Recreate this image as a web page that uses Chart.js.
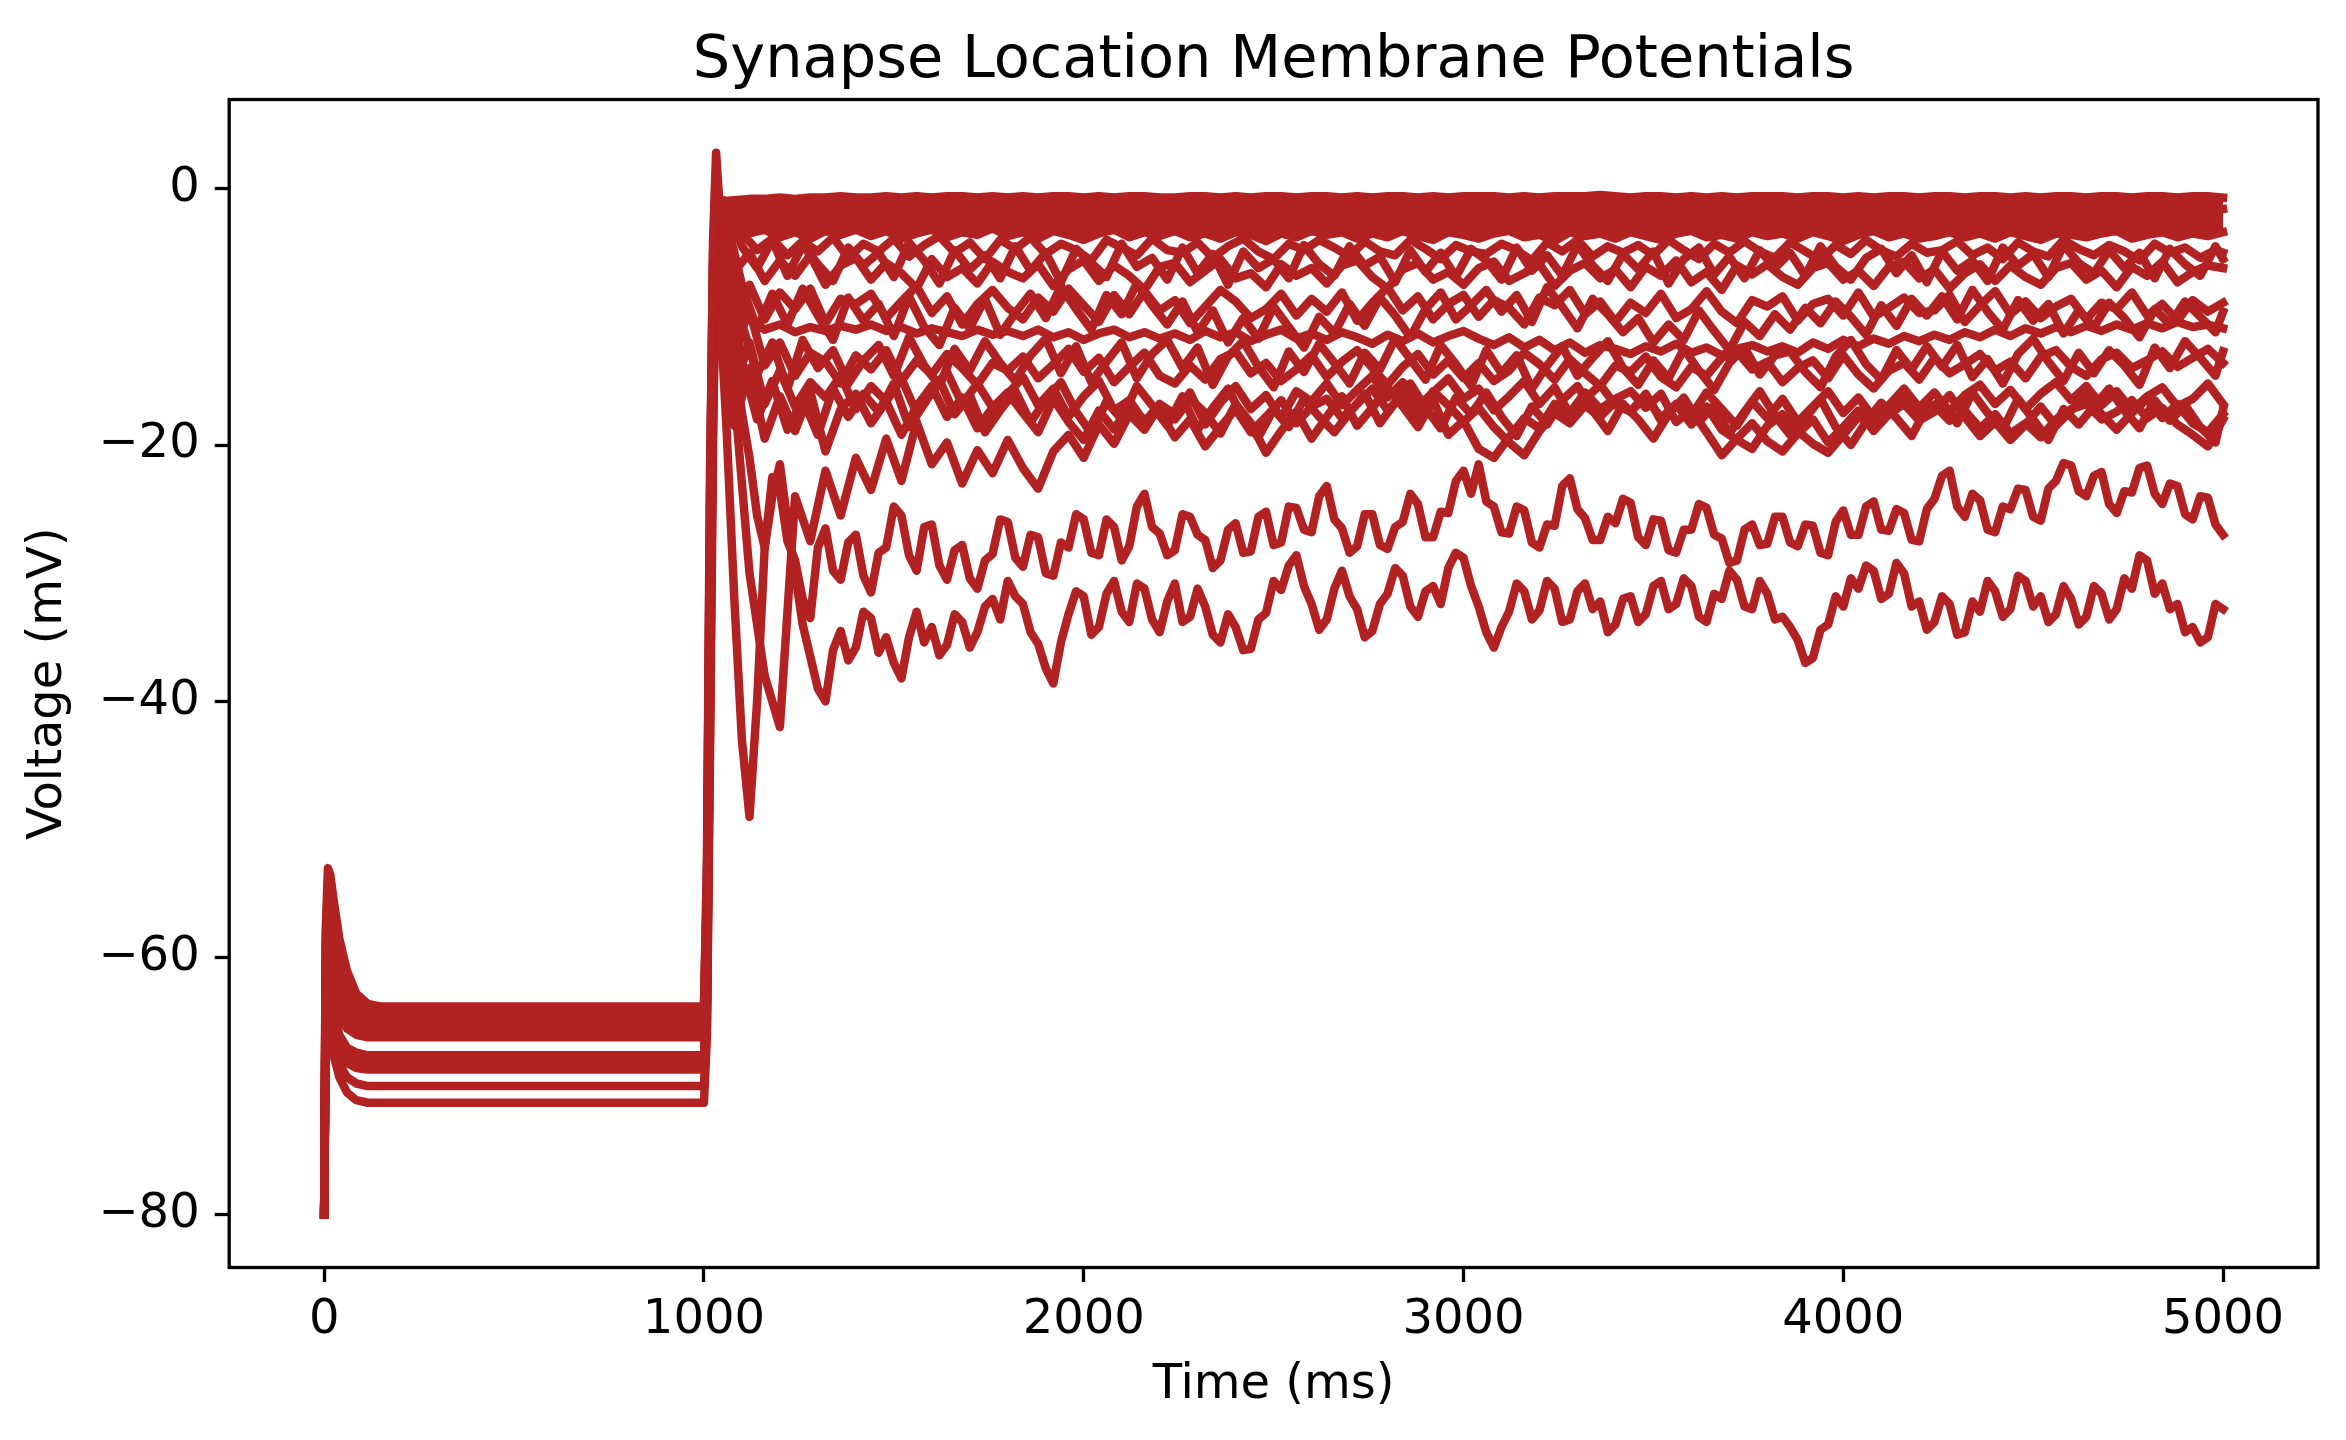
<!DOCTYPE html>
<html>
<head>
<meta charset="utf-8">
<title>Synapse Location Membrane Potentials</title>
<script src="https://cdn.jsdelivr.net/npm/chart.js@4.4.1/dist/chart.umd.min.js"></script>
<style>
  html, body { margin: 0; padding: 0; background: #fff; }
  canvas { display: block; }
</style>
</head>
<body>
<canvas id="chart" width="2346" height="1440"></canvas>
<script>
// --- time grids (ms) ---
// early part: rest period + onset of the stimulus
const tEarly = [0, 4, 10, 16, 25, 40, 60, 85, 115, 150, 200, 1000, 1008, 1016, 1024, 1032];
// late part: one sample every 40 ms from 1040 to 5000
const tLate = Array.from({ length: 100 }, (_, i) => 1040 + 40 * i);
// same spacing, sampled half a step later (last sample at 5000)
const tShift = Array.from({ length: 99 }, (_, i) => 1060 + 40 * i).concat([5000]);
// late part, finer (20 ms) for the isolated low traces
const tFine = Array.from({ length: 199 }, (_, i) => 1040 + 20 * i);

const xTicks = [0, 1000, 2000, 3000, 4000, 5000];
const yTicks = [-80, -60, -40, -20, 0];

// --- dense band near 0 mV (upper / lower edge, late part only) ---
const bandTop = [
  -1.0,-0.9,-0.8,-0.8,-0.7,-0.8,-0.7,-0.7,-0.6,-0.7,
  -0.7,-0.6,-0.7,-0.6,-0.7,-0.6,-0.6,-0.7,-0.6,-0.7,
  -0.6,-0.7,-0.6,-0.6,-0.7,-0.6,-0.7,-0.6,-0.6,-0.7,
  -0.7,-0.6,-0.6,-0.7,-0.6,-0.7,-0.6,-0.6,-0.7,-0.6,
  -0.6,-0.7,-0.6,-0.7,-0.6,-0.6,-0.7,-0.6,-0.7,-0.6,
  -0.6,-0.6,-0.7,-0.6,-0.7,-0.6,-0.6,-0.6,-0.5,-0.6,
  -0.7,-0.6,-0.6,-0.7,-0.6,-0.7,-0.6,-0.7,-0.6,-0.6,
  -0.6,-0.7,-0.6,-0.6,-0.7,-0.6,-0.7,-0.6,-0.6,-0.7,
  -0.6,-0.6,-0.7,-0.6,-0.6,-0.7,-0.6,-0.7,-0.6,-0.6,
  -0.7,-0.6,-0.6,-0.7,-0.6,-0.6,-0.7,-0.6,-0.6,-0.7
];
const bandBottom = [
  -2.0,-3.0,-3.5,-3.2,-3.8,-3.4,-3.9,-3.3,-3.6,-3.2,
  -3.7,-3.3,-3.9,-3.5,-3.2,-3.8,-3.4,-3.6,-3.1,-3.7,
  -3.4,-3.9,-3.3,-3.6,-4.0,-3.5,-3.2,-3.8,-3.4,-3.7,
  -3.3,-3.8,-3.5,-3.9,-3.4,-3.6,-4.1,-3.5,-3.8,-3.3,
  -3.6,-3.4,-3.9,-3.5,-3.8,-3.3,-3.7,-4.0,-3.4,-3.6,
  -3.9,-3.5,-3.3,-3.8,-3.6,-4.1,-3.4,-3.7,-3.5,-3.9,
  -3.4,-3.7,-4.0,-3.5,-3.3,-3.8,-3.6,-3.9,-3.4,-3.7,
  -3.5,-3.9,-3.4,-3.7,-4.1,-3.6,-3.3,-3.8,-3.5,-3.9,
  -3.7,-3.4,-3.8,-3.5,-3.9,-3.4,-3.7,-4.0,-3.5,-3.6,
  -3.8,-3.5,-3.3,-3.9,-3.6,-3.4,-3.8,-3.5,-3.7,-3.4
];

// --- individual synapse traces (mV) ---
const earlyA = [-80, -58, -53, -53.5, -55.5, -58.5, -61.0, -62.8, -63.6, -63.8, -63.8, -63.8, -55, -25, -4, 2.8];
const lateA = [
  -0.8,-1.2,-1.8,-1.4,-2.0,-1.5,-1.9,-1.3,-1.7,-2.1,
  -1.6,-2.2,-1.4,-1.9,-1.2,-1.7,-2.3,-1.5,-1.8,-1.3,
  -1.9,-1.4,-2.1,-1.6,-1.3,-2.0,-1.5,-2.4,-1.7,-1.2,
  -1.8,-2.2,-1.5,-1.9,-1.3,-1.6,-2.1,-1.4,-2.0,-1.7,
  -1.3,-1.9,-2.3,-1.6,-1.4,-2.0,-1.5,-1.8,-2.2,-1.6,
  -2.0,-1.5,-1.7,-2.3,-1.4,-1.9,-1.3,-2.1,-1.6,-1.8,
  -1.4,-2.1,-1.6,-1.3,-1.9,-2.2,-1.5,-1.8,-2.4,-1.7,
  -1.9,-1.3,-2.0,-1.6,-2.2,-1.5,-1.8,-1.4,-2.1,-1.6,
  -1.7,-2.3,-1.5,-1.9,-1.4,-2.0,-1.6,-2.2,-1.3,-1.8,
  -2.1,-1.6,-1.9,-1.4,-2.2,-1.7,-1.5,-2.0,-1.8,-1.6
];

const earlyC2 = [-80, -59, -54, -54.6, -56.6, -59.5, -61.8, -63.2, -63.9, -64.0, -64.0, -64.0, -54, -24, -5, -1.5];
const lateC2 = [
  -1.0,-4.5,-6.2,-4.0,-6.8,-4.4,-5.9,-7.2,-4.6,-6.0,
  -5.0,-6.9,-4.2,-5.6,-7.4,-4.8,-6.3,-5.2,-7.0,-4.5,
  -6.4,-5.0,-7.3,-4.7,-5.8,-6.9,-4.3,-6.1,-5.4,-7.1,
  -4.6,-6.6,-5.1,-7.5,-4.9,-6.2,-5.5,-7.0,-4.4,-5.9,
  -6.8,-4.5,-6.0,-5.3,-7.3,-4.8,-6.5,-5.0,-6.9,-4.7,
  -5.6,-7.1,-4.6,-6.4,-5.2,-6.8,-4.4,-6.0,-7.2,-5.1,
  -6.3,-4.9,-7.4,-5.5,-4.6,-6.7,-5.3,-7.0,-4.8,-6.2,
  -5.0,-6.8,-4.5,-6.1,-7.1,-5.4,-4.7,-6.6,-5.2,-7.3,
  -4.9,-6.4,-5.6,-7.2,-4.6,-6.0,-5.1,-6.9,-4.4,-5.8,
  -6.6,-4.8,-6.2,-5.0,-7.0,-4.7,-5.9,-6.8,-4.5,-5.5
];

const earlyB = [-80, -60, -55, -55.8, -57.8, -60.5, -62.5, -63.8, -64.2, -64.3, -64.3, -64.3, -52, -22, -6, -2];
const lateB = [
  -1.5,-3.5,-4.8,-3.9,-5.2,-4.1,-4.9,-3.8,-5.4,-4.3,
  -4.9,-3.9,-5.3,-4.4,-3.7,-5.0,-4.2,-5.5,-4.0,-4.7,
  -3.8,-5.1,-4.3,-4.8,-5.6,-4.0,-4.6,-5.2,-3.9,-4.8,
  -5.0,-4.2,-5.4,-4.5,-3.9,-4.9,-5.5,-4.3,-4.8,-4.0,
  -4.6,-5.3,-4.1,-4.9,-5.2,-4.0,-4.7,-5.5,-4.4,-4.9,
  -5.1,-4.3,-4.8,-5.6,-4.2,-4.9,-4.0,-5.3,-4.5,-5.0,
  -4.4,-5.2,-4.0,-4.8,-5.5,-4.3,-5.0,-4.1,-4.9,-5.4,
  -4.2,-4.9,-5.6,-4.4,-5.1,-4.0,-4.8,-5.3,-4.3,-5.0,
  -4.8,-4.1,-5.2,-4.6,-5.5,-4.2,-4.9,-5.3,-4.0,-4.7,
  -5.2,-4.4,-4.9,-5.6,-4.3,-5.0,-4.6,-5.4,-4.8,-5.0
];

const earlyC = [-80, -61, -57, -57.8, -59.6, -61.8, -63.4, -64.4, -64.7, -64.8, -64.8, -64.8, -56, -28, -8, -3];
const lateC = [
  -2.0,-6.5,-5.0,-7.2,-5.6,-6.8,-5.2,-7.5,-6.0,-5.4,
  -7.1,-5.8,-6.6,-7.8,-5.5,-6.9,-6.2,-7.4,-5.7,-6.5,
  -7.0,-5.9,-7.6,-6.3,-5.6,-7.2,-6.0,-6.8,-7.9,-6.1,
  -5.8,-7.3,-6.4,-5.5,-7.0,-6.6,-7.7,-5.9,-6.8,-6.2,
  -7.4,-6.0,-5.6,-6.9,-7.8,-6.3,-5.8,-7.1,-6.5,-7.5,
  -6.2,-5.7,-7.2,-6.6,-5.9,-7.6,-6.4,-5.8,-7.0,-6.3,
  -7.7,-6.1,-6.8,-5.6,-7.3,-6.5,-7.9,-6.0,-6.7,-5.9,
  -6.9,-7.5,-6.2,-5.8,-7.1,-6.4,-7.6,-6.1,-5.7,-7.0,
  -6.3,-7.8,-6.6,-5.9,-7.2,-6.0,-6.9,-7.5,-6.2,-5.8,
  -7.1,-6.4,-7.7,-6.1,-6.8,-5.7,-7.3,-6.5,-6.0,-6.2
];

const earlyD2 = [-80, -61.5, -58, -58.6, -60.2, -62.4, -63.9, -64.7, -64.95, -65.0, -65.0, -65.0, -57, -29, -9, -3];
const lateD2 = [
  -2.5,-7.5,-11.0,-8.2,-10.6,-7.8,-9.9,-11.8,-8.5,-10.3,
  -9.0,-11.5,-8.4,-10.8,-12.2,-9.3,-10.9,-8.6,-11.4,-9.7,
  -8.2,-10.1,-7.6,-9.4,-11.0,-8.3,-9.8,-7.4,-9.1,-10.6,
  -8.8,-11.2,-9.5,-12.0,-10.1,-11.7,-9.2,-10.8,-12.4,-10.0,
  -11.3,-9.0,-10.7,-8.5,-9.9,-11.6,-9.4,-8.1,-10.2,-9.1,
  -7.9,-9.6,-8.3,-10.4,-7.7,-9.2,-10.9,-8.6,-9.8,-11.2,
  -10.1,-12.0,-10.6,-11.8,-9.5,-11.1,-12.6,-10.4,-11.5,-9.8,
  -11.0,-9.3,-10.5,-8.8,-10.0,-11.4,-9.1,-10.7,-8.6,-9.9,
  -8.4,-10.2,-7.9,-9.6,-11.0,-8.7,-10.3,-9.0,-11.3,-9.5,
  -10.8,-8.9,-10.1,-11.6,-9.4,-10.6,-8.8,-10.0,-11.2,-9.6
];

const earlyD = [-80, -62, -58.5, -59.2, -60.8, -62.8, -64.2, -65.0, -65.2, -65.3, -65.3, -65.3, -58, -30, -10, -4];
const lateD = [
  -3.0,-9.5,-7.5,-10.2,-8.1,-9.4,-7.8,-10.5,-8.6,-9.0,
  -8.2,-10.1,-8.8,-7.6,-9.7,-8.4,-10.6,-9.0,-7.9,-9.3,
  -10.2,-8.5,-9.6,-7.8,-9.1,-10.4,-8.3,-9.8,-8.0,-9.5,
  -8.7,-10.5,-9.2,-7.9,-8.8,-10.1,-9.4,-8.2,-9.9,-8.6,
  -9.6,-8.1,-10.3,-8.9,-7.7,-9.5,-8.4,-10.2,-9.0,-8.3,
  -10.0,-8.7,-9.3,-10.6,-8.5,-9.1,-7.9,-9.8,-8.8,-10.4,
  -8.9,-9.7,-8.2,-10.1,-9.4,-8.0,-9.6,-10.5,-8.7,-9.2,
  -8.4,-10.3,-9.0,-8.6,-9.9,-8.1,-10.0,-9.3,-8.5,-9.7,
  -9.5,-8.3,-10.4,-9.1,-8.0,-9.8,-8.8,-10.1,-9.2,-8.6,
  -10.2,-8.9,-9.4,-8.1,-9.9,-9.0,-10.3,-8.7,-9.6,-8.9
];

const earlyE = [-80, -63, -60, -60.6, -62.0, -63.8, -64.9, -65.5, -65.7, -65.8, -65.8, -65.8, -60, -34, -12, -3];
const lateE = [
  -2.5,-8.0,-10.2,-11.0,-10.6,-11.2,-10.8,-11.1,-10.7,-11.0,
  -10.6,-11.1,-10.8,-11.3,-10.9,-11.2,-11.5,-11.0,-11.4,-11.1,
  -11.5,-11.0,-11.6,-11.2,-11.8,-11.3,-11.0,-11.6,-11.2,-11.7,
  -11.3,-11.8,-11.1,-11.6,-11.2,-11.9,-11.4,-11.0,-11.7,-11.3,
  -11.8,-11.2,-11.6,-12.1,-11.4,-11.9,-11.3,-12.0,-11.5,-11.1,
  -11.7,-12.2,-11.6,-12.4,-11.8,-12.6,-12.0,-12.8,-12.2,-12.5,
  -12.9,-12.3,-12.7,-12.1,-12.8,-12.4,-13.0,-12.5,-12.2,-12.7,
  -12.3,-12.8,-12.0,-12.5,-11.8,-12.3,-11.7,-12.1,-11.5,-11.9,
  -11.4,-11.8,-11.2,-11.6,-11.0,-11.5,-10.9,-11.3,-10.8,-11.2,
  -10.7,-11.1,-10.6,-11.0,-10.5,-10.9,-10.4,-10.8,-10.6,-10.9
];

const earlyF = [-80, -64, -61, -61.6, -63.0, -64.6, -65.5, -66.0, -66.2, -66.2, -66.2, -66.2, -60, -32, -9, -3.5];
const lateF = [
  -4.0,-12.5,-9.5,-13.8,-12.0,-14.6,-12.8,-13.5,-15.2,-13.0,
  -14.1,-12.6,-15.0,-13.4,-14.5,-12.9,-14.0,-15.3,-13.6,-14.2,
  -13.1,-14.8,-13.7,-12.5,-14.3,-13.2,-15.1,-13.9,-12.8,-14.6,
  -15.2,-13.8,-14.9,-13.3,-12.7,-14.4,-13.6,-15.0,-14.1,-13.0,
  -14.7,-13.5,-12.6,-14.0,-15.3,-13.9,-12.9,-14.5,-13.4,-14.8,
  -13.6,-15.0,-14.2,-12.8,-13.7,-14.9,-13.3,-14.4,-15.4,-13.8,
  -14.3,-13.1,-14.7,-15.5,-13.9,-14.6,-13.2,-12.7,-14.1,-13.5,
  -15.1,-14.0,-13.4,-14.8,-13.0,-14.5,-15.6,-14.2,-13.6,-14.9,
  -13.2,-14.4,-13.7,-12.9,-14.2,-13.5,-14.8,-13.1,-12.6,-13.9,
  -14.6,-13.3,-12.8,-14.0,-13.4,-12.7,-13.9,-13.2,-12.5,-13.6
];

const earlyG = [-80, -65, -62, -62.8, -64.3, -66.0, -67.0, -67.4, -67.6, -67.6, -67.6, -67.6, -62, -36, -14, -4];
const lateG = [
  -5.0,-15.5,-12.0,-16.8,-14.2,-17.0,-15.1,-16.3,-14.6,-17.2,
  -15.4,-16.6,-14.8,-17.5,-15.9,-14.3,-16.8,-15.2,-17.1,-16.0,
  -14.7,-16.9,-15.6,-17.8,-16.2,-15.0,-17.3,-16.5,-18.2,-16.8,
  -17.6,-15.9,-18.4,-16.7,-15.4,-17.2,-16.1,-17.9,-15.8,-16.6,
  -15.2,-16.9,-15.7,-14.6,-16.3,-15.1,-17.0,-15.9,-14.8,-16.4,
  -15.6,-17.3,-16.2,-15.0,-16.8,-15.5,-17.6,-16.4,-15.3,-16.9,
  -17.4,-16.0,-18.1,-16.8,-17.7,-15.9,-17.2,-18.5,-16.6,-17.9,
  -16.4,-18.2,-17.0,-15.8,-17.5,-16.3,-17.9,-16.9,-15.6,-17.1,
  -15.9,-17.4,-16.1,-15.3,-16.8,-15.7,-17.2,-16.0,-15.1,-16.5,
  -15.4,-16.9,-15.8,-17.3,-16.2,-15.5,-17.0,-16.4,-15.2,-16.8
];

const earlyF2 = [-80, -65.5, -62.5, -63.2, -64.6, -66.3, -67.3, -67.7, -67.9, -67.9, -67.9, -67.9, -62, -35, -12, -4];
const lateF2 = [
  -4.5,-10.5,-14.5,-12.0,-15.6,-11.8,-14.0,-12.6,-15.2,-13.4,
  -12.2,-14.6,-11.6,-13.8,-15.4,-12.5,-14.2,-11.9,-13.6,-15.0,
  -13.0,-11.7,-14.4,-12.3,-15.1,-13.5,-12.0,-14.8,-12.9,-11.8,
  -14.0,-12.4,-15.3,-13.1,-11.9,-13.9,-15.5,-12.7,-14.3,-12.1,
  -13.6,-15.2,-12.8,-14.1,-11.7,-13.3,-14.9,-12.2,-13.7,-15.4,
  -12.6,-14.4,-13.0,-15.6,-13.8,-12.3,-14.6,-13.2,-11.9,-14.0,
  -15.3,-13.4,-14.8,-12.5,-14.2,-15.7,-13.6,-12.4,-14.5,-13.0,
  -12.7,-14.3,-15.5,-13.1,-11.8,-13.7,-14.9,-12.6,-14.1,-12.3,
  -13.9,-12.2,-14.7,-13.3,-15.2,-12.9,-11.7,-13.5,-15.0,-12.8,
  -14.4,-12.6,-13.8,-15.3,-12.4,-14.0,-11.9,-13.2,-14.6,-12.7
];

const earlyH = [-80, -66, -63, -63.6, -65.0, -66.7, -67.6, -68.0, -68.2, -68.2, -68.2, -68.2, -63, -38, -15, -5];
const lateH = [
  -6.0,-18.5,-14.0,-19.5,-16.2,-18.9,-15.8,-20.5,-17.2,-16.0,
  -18.3,-16.6,-19.2,-17.0,-15.4,-17.8,-16.3,-18.7,-17.1,-15.9,
  -17.5,-19.0,-16.4,-18.2,-19.6,-17.3,-18.8,-16.9,-18.1,-17.4,
  -19.4,-18.0,-20.1,-18.6,-17.2,-19.0,-17.8,-16.5,-18.3,-17.0,
  -16.4,-17.9,-16.8,-15.6,-17.3,-16.1,-17.7,-15.8,-16.9,-18.2,
  -17.1,-18.6,-19.8,-20.8,-18.9,-17.5,-18.3,-16.9,-17.8,-16.6,
  -17.4,-16.2,-17.9,-16.8,-18.4,-17.0,-18.8,-19.6,-20.3,-18.5,
  -17.6,-18.9,-19.9,-20.6,-19.2,-17.8,-18.5,-17.1,-16.4,-17.7,
  -16.9,-18.1,-17.3,-18.7,-17.6,-19.1,-18.3,-19.4,-18.0,-17.2,
  -16.8,-18.0,-17.4,-16.5,-17.9,-17.1,-18.4,-19.2,-20.1,-18.0
];

const earlyG2 = [-80, -66.2, -63.5, -64.1, -65.4, -67.0, -67.9, -68.3, -68.5, -68.5, -68.5, -68.5, -63.5, -39, -16, -5];
const lateG2 = [
  -5.5,-13.5,-18.0,-15.0,-18.8,-16.4,-19.2,-15.6,-17.8,-16.0,
  -17.4,-15.2,-18.6,-16.8,-14.9,-17.6,-16.1,-19.0,-17.3,-15.8,
  -18.2,-16.5,-15.1,-17.4,-19.1,-16.6,-18.0,-15.4,-16.9,-18.5,
  -16.2,-18.8,-17.1,-15.6,-17.9,-19.4,-17.2,-18.6,-16.4,-17.8,
  -19.0,-17.5,-16.0,-18.3,-16.7,-15.2,-17.1,-18.7,-16.3,-17.6,
  -15.9,-17.8,-19.3,-17.0,-18.4,-16.5,-15.4,-17.3,-18.9,-16.8,
  -18.0,-19.5,-17.6,-16.3,-18.2,-16.9,-19.1,-17.4,-15.8,-17.7,
  -19.2,-17.9,-16.4,-18.6,-20.0,-18.2,-16.7,-17.9,-19.3,-17.1,
  -16.6,-18.3,-15.9,-17.5,-18.8,-16.4,-18.0,-19.6,-17.2,-18.4,
  -17.0,-15.6,-17.3,-18.7,-16.5,-18.1,-16.9,-18.6,-19.8,-17.2
];

const earlyL0 = [-80, -66.5, -64, -64.5, -65.8, -67.3, -68.2, -68.6, -68.7, -68.7, -68.7, -68.7, -64, -40, -16, -4];
const lateL0 = [
  -5.0,-16.0,-30.0,-38.0,-42.0,-24.0,-27.5,-22.0,-25.5,-21.0,
  -23.5,-19.5,-22.8,-18.2,-21.5,-19.8,-23.0,-20.4,-22.2,-19.6,
  -21.8,-23.4,-20.5,-19.2,-21.0,-18.4,-19.9,-17.6,-18.8,-16.9,
  -18.0,-16.4,-17.5,-19.1,-16.8,-18.3,-20.6,-18.9,-17.4,-19.5,
  -17.8,-16.2,-18.5,-17.1,-15.5,-17.0,-18.6,-16.5,-19.2,-18.1,
  -20.3,-21.0,-19.4,-17.9,-18.7,-16.8,-17.5,-15.9,-17.2,-16.4,
  -15.8,-17.1,-16.0,-18.2,-17.3,-19.0,-20.8,-19.5,-18.3,-19.7,
  -20.5,-19.1,-18.0,-19.8,-18.6,-17.3,-18.9,-17.6,-16.8,-18.1,
  -17.4,-16.1,-17.8,-19.3,-18.2,-19.6,-18.4,-17.0,-18.5,-17.3,
  -16.2,-17.6,-18.8,-17.5,-16.4,-17.9,-16.8,-18.3,-19.0,-17.6
];

// 20 ms samples
const earlyL1 = [-80, -67, -64.5, -65.2, -66.6, -68.3, -69.3, -69.8, -70.0, -70.0, -70.0, -70.0, -65, -42, -18, -6];
const fineL1 = [
  -8.0,-19.0,-32.0,-43.0,-49.0,-40.0,-28.0,-22.5,-23.5,-27.5,-29.0,-32.0,-33.5,-28.0,-26.5,-29.8,-30.5,-27.6,-27.0,-30.2,
  -31.5,-28.4,-28.0,-24.8,-25.5,-28.6,-29.8,-26.4,-26.2,-29.4,-30.5,-28.2,-27.8,-30.4,-31.2,-29.0,-28.5,-25.8,-26.0,-28.8,
  -29.5,-27.0,-27.2,-30.0,-30.2,-27.6,-28.0,-25.4,-25.8,-28.4,-28.6,-25.8,-26.4,-29.0,-27.9,-24.8,-23.8,-26.4,-26.9,-28.6,
  -28.2,-25.4,-25.6,-27.0,-27.4,-29.6,-29.0,-26.6,-26.1,-28.4,-28.3,-25.6,-25.2,-27.8,-27.6,-24.8,-24.9,-26.6,-26.8,-24.0,
  -23.2,-25.8,-26.5,-28.4,-27.9,-25.4,-25.4,-27.8,-28.1,-26.4,-26.0,-23.8,-24.6,-27.2,-27.2,-25.2,-25.3,-22.8,-22.0,-23.8,
  -21.5,-24.4,-24.8,-26.8,-26.9,-24.8,-25.1,-27.6,-28.0,-26.2,-26.3,-23.2,-22.6,-25.0,-25.7,-27.4,-27.4,-25.6,-26.1,-24.2,
  -24.5,-27.2,-27.8,-25.8,-25.9,-28.2,-28.4,-26.6,-26.6,-24.6,-24.9,-27.0,-27.3,-29.2,-29.0,-26.6,-26.2,-27.8,-27.7,-25.6,
  -25.6,-27.6,-27.9,-26.2,-26.3,-28.4,-28.6,-26.0,-25.1,-27.0,-27.0,-24.8,-24.4,-26.6,-26.7,-25.0,-25.3,-27.4,-27.5,-25.0,
  -24.2,-22.4,-22.0,-24.8,-25.6,-23.8,-24.3,-26.6,-26.8,-24.8,-25.0,-23.4,-23.5,-25.6,-25.9,-23.4,-22.8,-21.4,-21.6,-23.6,
  -24.0,-22.4,-22.1,-24.6,-25.3,-23.6,-23.7,-21.8,-21.6,-23.8,-24.6,-23.0,-23.2,-25.4,-25.8,-24.0,-24.1,-26.2,-27.0
];

const earlyL2 = [-80, -68, -65.5, -66.2, -67.6, -69.3, -70.5, -71.1, -71.3, -71.3, -71.3, -71.3, -66, -44, -20, -3];
const fineL2 = [
  -3.0,-7.0,-13.0,-17.5,-21.0,-25.5,-28.0,-24.0,-21.5,-26.0,-30.0,-34.0,-36.5,-39.0,-40.0,-36.0,-34.5,-36.8,-35.8,-33.0,
  -33.5,-36.2,-35.0,-37.0,-38.2,-35.0,-33.0,-35.4,-34.2,-36.4,-35.6,-33.2,-33.8,-35.8,-34.6,-32.6,-32.0,-33.6,-30.6,-31.8,
  -32.4,-34.6,-35.5,-37.4,-38.6,-35.4,-33.2,-31.4,-31.8,-34.8,-34.2,-31.6,-30.6,-33.0,-33.8,-30.8,-31.2,-33.6,-34.6,-32.2,
  -30.8,-33.8,-33.4,-31.2,-32.6,-34.8,-35.4,-33.2,-34.2,-36.0,-35.9,-33.6,-33.1,-30.6,-31.3,-29.4,-28.6,-31.0,-32.4,-34.4,
  -33.6,-31.2,-29.8,-31.8,-32.8,-35.0,-34.5,-32.4,-31.6,-29.6,-30.2,-32.6,-33.4,-31.4,-31.0,-32.4,-29.6,-28.4,-28.8,-31.0,
  -32.6,-34.6,-35.8,-34.2,-33.0,-30.8,-31.4,-33.6,-32.9,-30.6,-31.2,-33.8,-33.6,-31.4,-30.8,-32.8,-32.2,-34.6,-34.0,-32.0,
  -31.8,-33.8,-33.2,-31.0,-30.6,-32.8,-32.4,-30.4,-31.0,-33.4,-33.8,-31.6,-32.0,-29.8,-30.5,-32.6,-32.8,-30.6,-31.6,-33.6,
  -33.4,-34.2,-35.2,-37.0,-36.6,-34.4,-34.0,-31.8,-32.6,-30.4,-31.2,-29.4,-29.8,-32.0,-31.6,-29.2,-30.0,-32.6,-32.2,-34.4,
  -33.8,-31.8,-32.4,-34.8,-34.6,-32.2,-33.0,-30.6,-31.4,-33.4,-32.8,-30.2,-30.6,-32.6,-31.8,-33.8,-33.2,-31.0,-32.0,-34.0,
  -33.4,-31.0,-31.6,-33.6,-32.8,-30.4,-31.2,-28.6,-29.0,-31.6,-30.8,-32.8,-32.4,-34.6,-34.2,-35.4,-35.0,-32.4,-32.8
];

const traces = [
  [earlyA, tLate, lateA], [earlyC2, tShift, lateC2], [earlyB, tShift, lateB],
  [earlyC, tLate, lateC], [earlyD2, tShift, lateD2], [earlyD, tLate, lateD],
  [earlyE, tLate, lateE], [earlyF, tLate, lateF], [earlyG, tLate, lateG],
  [earlyF2, tShift, lateF2], [earlyH, tLate, lateH], [earlyG2, tShift, lateG2],
  [earlyL0, tLate, lateL0], [earlyL1, tFine, fineL1], [earlyL2, tFine, fineL2]
];

const RED = '#B22222';
const FONT = 'DejaVu Sans';

function toPoints(times, values) {
  return times.map((t, i) => ({ x: t, y: values[i] }));
}

const lineStyle = {
  borderColor: RED,
  borderWidth: 8.5,
  pointRadius: 0,
  tension: 0,
  borderJoinStyle: 'round',
  borderCapStyle: 'square'
};

const datasets = [
  { ...lineStyle, data: toPoints(tLate, bandTop), fill: '+1', backgroundColor: RED },
  { ...lineStyle, data: toPoints(tLate, bandBottom), fill: false }
];
traces.forEach(([early, times, late]) => {
  datasets.push({ ...lineStyle, fill: false, data: toPoints(tEarly, early).concat(toPoints(times, late)) });
});

// title centred over the axes, and the closed axes frame
const frameAndTitle = {
  id: 'frameAndTitle',
  afterDraw(chart) {
    const { ctx, chartArea: a } = chart;
    ctx.save();
    ctx.strokeStyle = '#000';
    ctx.lineWidth = 3.3;
    ctx.strokeRect(a.left, a.top, a.right - a.left, a.bottom - a.top);
    ctx.fillStyle = '#000';
    ctx.font = '59px "' + FONT + '"';
    ctx.textAlign = 'center';
    ctx.textBaseline = 'alphabetic';
    ctx.fillText('Synapse Location Membrane Potentials', (a.left + a.right) / 2, 76.7);
    ctx.restore();
  }
};

const tickGrid = {
  display: true,
  drawOnChartArea: false,
  drawTicks: true,
  tickLength: 14.5,
  tickWidth: 3.3,
  tickColor: '#000'
};

new Chart(document.getElementById('chart'), {
  type: 'line',
  data: { datasets },
  options: {
    responsive: false,
    devicePixelRatio: 1,
    animation: false,
    parsing: false,
    layout: { padding: { top: 99.5, right: 28, bottom: 0, left: 0 } },
    plugins: { legend: { display: false }, tooltip: { enabled: false }, title: { display: false } },
    scales: {
      x: {
        type: 'linear',
        min: -250,
        max: 5250,
        afterBuildTicks: (s) => { s.ticks = xTicks.map(v => ({ value: v })); },
        afterFit: (s) => { s.height = 172.5; },
        grid: tickGrid,
        border: { display: false },
        ticks: {
          color: '#000', font: { family: FONT, size: 48 }, padding: 9.3, maxRotation: 0, autoSkip: false,
          callback: (v) => String(v)
        },
        title: { display: true, text: 'Time (ms)', color: '#000', font: { family: FONT, size: 48 }, padding: { top: 0, bottom: 26 } }
      },
      y: {
        type: 'linear',
        min: -84.15,
        max: 6.95,
        afterBuildTicks: (s) => { s.ticks = yTicks.map(v => ({ value: v })); },
        afterFit: (s) => { s.width = 229.2; },
        grid: tickGrid,
        border: { display: false },
        ticks: {
          color: '#000', font: { family: FONT, size: 48 }, padding: 15,
          callback: (v) => (v < 0 ? '\u2212' + Math.abs(v) : String(v))
        },
        title: { display: true, text: 'Voltage (mV)', color: '#000', font: { family: FONT, size: 48 }, padding: { top: 20, bottom: 0 } }
      }
    }
  },
  plugins: [frameAndTitle]
});
</script>
</body>
</html>
